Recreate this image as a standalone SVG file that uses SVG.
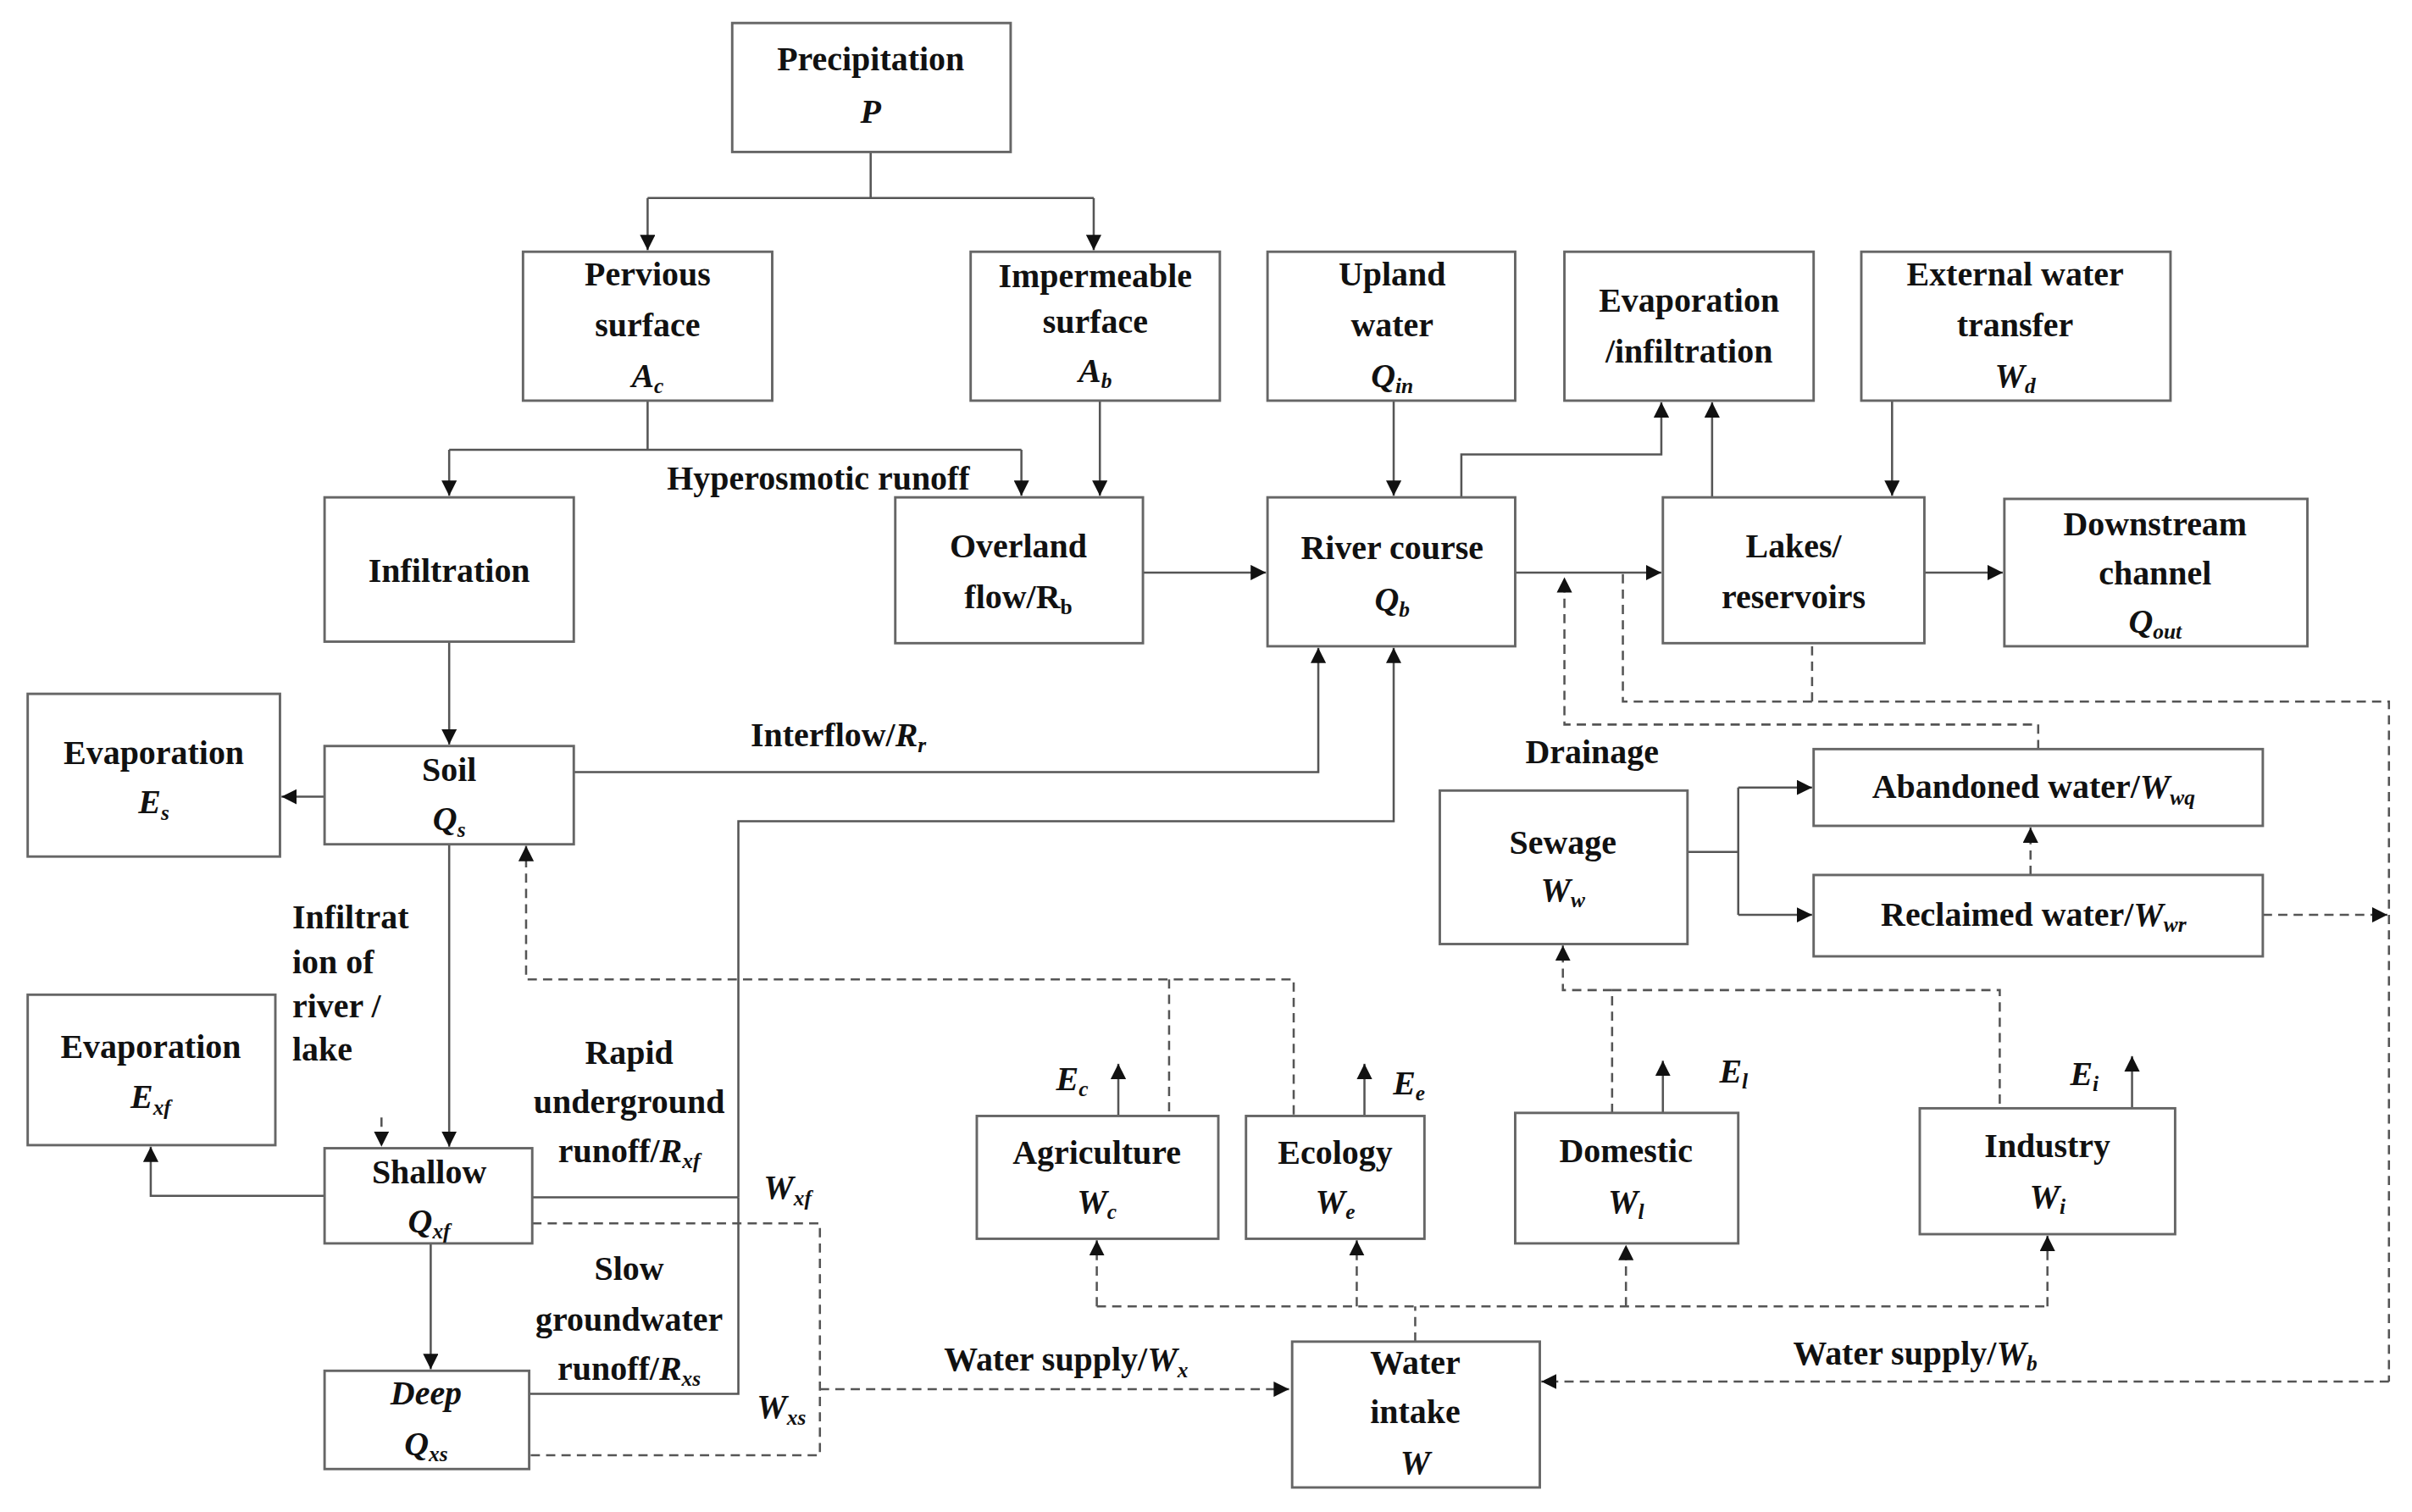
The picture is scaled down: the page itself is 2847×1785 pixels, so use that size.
<svg xmlns="http://www.w3.org/2000/svg" width="2847" height="1785" viewBox="0 0 2847 1785">
<defs>
<marker id="ar" viewBox="0 0 10 10" refX="10" refY="5" markerWidth="10" markerHeight="10" markerUnits="userSpaceOnUse" orient="auto"><path d="M0,0 L10,5 L0,10 z" fill="#111"/></marker>
<style>
rect{fill:#fff;stroke:#666;stroke-width:1.6}
.c path{fill:none;stroke:#555;stroke-width:1.4}
.c path.d{stroke-dasharray:6 4}
.c path.a{marker-end:url(#ar)}
text{font-family:"Liberation Serif","Times New Roman",serif;font-weight:bold;font-size:22px;fill:#111;text-anchor:middle}
.i{font-style:italic}
.l{text-anchor:start}
.s{font-size:14px;font-style:italic}
</style>
</defs>
<rect x="0" y="0" width="2847" height="1785" style="fill:#fff;stroke:none"/>
<g transform="scale(1.8157 1.8122)">
<g class="c" id="connectors">
<path d="M566,99 V129 M421,129 H711"/>
<path class="a" d="M421,129 V163"/>
<path class="a" d="M711,129 V163"/>
<path d="M421,261 V293 M292,293 H664"/>
<path class="a" d="M292,293 V323"/>
<path class="a" d="M664,293 V323"/>
<path class="a" d="M715,261 V323"/>
<path class="a" d="M743,373 H823"/>
<path class="a" d="M906,261 V323"/>
<path class="a" d="M950,324 V296 H1080 V262"/>
<path class="a" d="M1113,324 V262"/>
<path class="a" d="M1230,261 V323"/>
<path class="a" d="M985,373 H1080"/>
<path class="a" d="M1251,373 H1302"/>
<path class="a" d="M292,418 V485"/>
<path class="a" d="M211,519 H183"/>
<path class="a" d="M373,503 H857 V422"/>
<path class="a" d="M480,780 V535 H906 V422"/>
<path d="M346,780 H480 M344,908 H480 V780"/>
<path class="a" d="M211,779 H98 V747"/>
<path class="a" d="M292,550 V747"/>
<path class="a" d="M280,810 V892"/>
<path class="a d" d="M248,728 V747"/>
<path class="a d" d="M841,726 V638 H342 V551"/>
<path class="d" d="M760,638 V726"/>
<path class="a d" d="M1048,725 V645 H1016 V616"/>
<path class="d" d="M1048,645 H1300 V722"/>
<path d="M1097,555 H1130 M1130,513 V596"/>
<path class="a" d="M1130,513 H1178"/>
<path class="a" d="M1130,596 H1178"/>
<path class="a d" d="M1320,570 V539"/>
<path class="a d" d="M1471,596 H1552"/>
<path class="a d" d="M1325,488 V472 H1017 V376"/>
<path class="d" d="M1055,374 V457 H1553 V900 M1178,421 V457"/>
<path class="a d" d="M1553,900 H1002"/>
<path class="d" d="M920,874 V851 M713,851 H1331"/>
<path class="a d" d="M713,851 V808"/>
<path class="a d" d="M882,851 V808"/>
<path class="a d" d="M1057,851 V811"/>
<path class="a d" d="M1331,851 V805"/>
<path class="a" d="M727,727 V693"/>
<path class="a" d="M887,727 V693"/>
<path class="a" d="M1081,725 V691"/>
<path class="a" d="M1386,722 V688"/>
<path class="d" d="M346,797 H533 V948 H344"/>
<path class="a d" d="M533,905 H838"/>
</g>
<g id="precipitation"><rect x="476" y="15" width="181" height="84"/><text x="566" y="46">Precipitation</text><text x="566" y="80" class="i">P</text></g>
<g id="pervious"><rect x="340" y="164" width="162" height="97"/><text x="421" y="186">Pervious</text><text x="421" y="219">surface</text><text x="421" y="252" class="i">A<tspan class="s" dy="4">c</tspan></text></g>
<g id="impermeable"><rect x="631" y="164" width="162" height="97"/><text x="712" y="187">Impermeable</text><text x="712" y="217">surface</text><text x="712" y="249" class="i">A<tspan class="s" dy="4">b</tspan></text></g>
<g id="upland"><rect x="824" y="164" width="161" height="97"/><text x="905" y="186">Upland</text><text x="905" y="219">water</text><text x="905" y="252" class="i">Q<tspan class="s" dy="4">in</tspan></text></g>
<g id="evapinf"><rect x="1017" y="164" width="162" height="97"/><text x="1098" y="203">Evaporation</text><text x="1098" y="236">/infiltration</text></g>
<g id="external"><rect x="1210" y="164" width="201" height="97"/><text x="1310" y="186">External water</text><text x="1310" y="219">transfer</text><text x="1310" y="252" class="i">W<tspan class="s" dy="4">d</tspan></text></g>
<g id="infiltration"><rect x="211" y="324" width="162" height="94"/><text x="292" y="379">Infiltration</text></g>
<g id="overland"><rect x="582" y="324" width="161" height="95"/><text x="662" y="363">Overland</text><text x="662" y="396">flow/R<tspan font-size="14" dy="4">b</tspan></text></g>
<g id="river"><rect x="824" y="324" width="161" height="97"/><text x="905" y="364">River course</text><text x="905" y="398" class="i">Q<tspan class="s" dy="4">b</tspan></text></g>
<g id="lakes"><rect x="1081" y="324" width="170" height="95"/><text x="1166" y="363">Lakes/</text><text x="1166" y="396">reservoirs</text></g>
<g id="downstream"><rect x="1303" y="325" width="197" height="96"/><text x="1401" y="349">Downstream</text><text x="1401" y="381">channel</text><text x="1401" y="412" class="i">Q<tspan class="s" dy="4">out</tspan></text></g>
<g id="evap-s"><rect x="18" y="452" width="164" height="106"/><text x="100" y="498">Evaporation</text><text x="100" y="530" class="i">E<tspan class="s" dy="4">s</tspan></text></g>
<g id="soil"><rect x="211" y="486" width="162" height="64"/><text x="292" y="509">Soil</text><text x="292" y="541" class="i">Q<tspan class="s" dy="4">s</tspan></text></g>
<g id="evap-xf"><rect x="18" y="648" width="161" height="98"/><text x="98" y="689">Evaporation</text><text x="98" y="722" class="i">E<tspan class="s" dy="4">xf</tspan></text></g>
<g id="shallow"><rect x="211" y="748" width="135" height="62"/><text x="279" y="771">Shallow</text><text x="279" y="803" class="i">Q<tspan class="s" dy="4">xf</tspan></text></g>
<g id="deep"><rect x="211" y="893" width="133" height="64"/><text x="277" y="915" class="i">Deep</text><text x="277" y="948" class="i">Q<tspan class="s" dy="4">xs</tspan></text></g>
<g id="sewage"><rect x="936" y="515" width="161" height="100"/><text x="1016" y="556">Sewage</text><text x="1016" y="587" class="i">W<tspan class="s" dy="4">w</tspan></text></g>
<g id="abandoned"><rect x="1179" y="488" width="292" height="50"/><text x="1322" y="520">Abandoned water/<tspan class="i">W</tspan><tspan class="s" dy="4">wq</tspan></text></g>
<g id="reclaimed"><rect x="1179" y="570" width="292" height="53"/><text x="1322" y="603">Reclaimed water/<tspan class="i">W</tspan><tspan class="s" dy="4">wr</tspan></text></g>
<g id="agriculture"><rect x="635" y="727" width="157" height="80"/><text x="713" y="758">Agriculture</text><text x="713" y="790" class="i">W<tspan class="s" dy="4">c</tspan></text></g>
<g id="ecology"><rect x="810" y="727" width="116" height="80"/><text x="868" y="758">Ecology</text><text x="868" y="790" class="i">W<tspan class="s" dy="4">e</tspan></text></g>
<g id="domestic"><rect x="985" y="725" width="145" height="85"/><text x="1057" y="757">Domestic</text><text x="1057" y="790" class="i">W<tspan class="s" dy="4">l</tspan></text></g>
<g id="industry"><rect x="1248" y="722" width="166" height="82"/><text x="1331" y="754">Industry</text><text x="1331" y="787" class="i">W<tspan class="s" dy="4">i</tspan></text></g>
<g id="intake"><rect x="840" y="874" width="161" height="95"/><text x="920" y="895">Water</text><text x="920" y="927">intake</text><text x="920" y="960" class="i">W</text></g>
<g id="labels">
<text x="532" y="319">Hyperosmotic runoff</text>
<text x="545" y="486">Interflow/<tspan class="i">R</tspan><tspan class="s" dy="4">r</tspan></text>
<text x="1035" y="497">Drainage</text>
<text x="190" y="605" class="l">Infiltrat</text>
<text x="190" y="634" class="l">ion of</text>
<text x="190" y="663" class="l">river /</text>
<text x="190" y="691" class="l">lake</text>
<text x="409" y="693">Rapid</text>
<text x="409" y="725">underground</text>
<text x="409" y="757">runoff/<tspan class="i">R</tspan><tspan class="s" dy="4">xf</tspan></text>
<text x="512" y="781" class="i">W<tspan class="s" dy="4">xf</tspan></text>
<text x="409" y="834">Slow</text>
<text x="409" y="867">groundwater</text>
<text x="409" y="899">runoff/<tspan class="i">R</tspan><tspan class="s" dy="4">xs</tspan></text>
<text x="508" y="924" class="i">W<tspan class="s" dy="4">xs</tspan></text>
<text x="693" y="893">Water supply/<tspan class="i">W</tspan><tspan class="s" dy="4">x</tspan></text>
<text x="1245" y="889">Water supply/<tspan class="i">W</tspan><tspan class="s" dy="4">b</tspan></text>
<text x="697" y="710" class="i">E<tspan class="s" dy="4">c</tspan></text>
<text x="916" y="713" class="i">E<tspan class="s" dy="4">e</tspan></text>
<text x="1127" y="705" class="i">E<tspan class="s" dy="4">l</tspan></text>
<text x="1355" y="707" class="i">E<tspan class="s" dy="4">i</tspan></text>
</g>
</g>
</svg>
